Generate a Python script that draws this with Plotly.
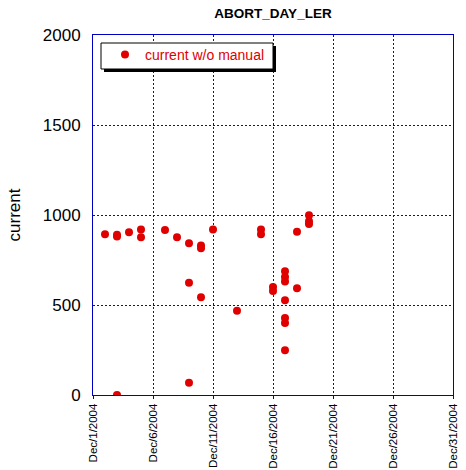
import plotly.graph_objects as go

# data
dates = [
    "2004-12-02", "2004-12-03", "2004-12-03", "2004-12-03", "2004-12-04",
    "2004-12-05", "2004-12-05", "2004-12-07", "2004-12-08", "2004-12-09",
    "2004-12-09", "2004-12-09", "2004-12-10", "2004-12-10", "2004-12-10",
    "2004-12-11", "2004-12-13", "2004-12-15", "2004-12-15", "2004-12-16",
    "2004-12-16", "2004-12-17", "2004-12-17", "2004-12-17", "2004-12-17",
    "2004-12-17", "2004-12-17", "2004-12-17", "2004-12-18", "2004-12-18",
    "2004-12-19", "2004-12-19", "2004-12-19",
]
current = [
    893, 890, 880, 0, 904,
    920, 876, 917, 876, 843,
    623, 68, 830, 815, 543,
    920, 468, 920, 893, 600,
    578, 687, 655, 630, 526,
    428, 400, 248, 907, 593,
    998, 965, 950,
]
tick_vals = ["2004-12-01", "2004-12-06", "2004-12-11", "2004-12-16",
             "2004-12-21", "2004-12-26", "2004-12-31"]
tick_text = ["Dec/1/2004", "Dec/6/2004", "Dec/11/2004", "Dec/16/2004",
             "Dec/21/2004", "Dec/26/2004", "Dec/31/2004"]
y_ticks = [0, 500, 1000, 1500, 2000]

axis_blue = "#0000C0"
grid_blue = "#0000FF"
red = "#E00000"

# plot-area geometry in px (for paper-coordinate conversion of decorations)
L, T, W, H = 93, 35, 360, 360


def px_x(p):
    return (p - L) / W


def px_y(p):
    return (T + H - p) / H


fig = go.Figure()
fig.add_trace(go.Scatter(
    x=dates, y=current, mode="markers", name="current w/o manual",
    marker=dict(color=red, size=8, symbol="circle"),
))

fig.update_layout(
    width=466, height=470,
    margin=dict(l=93, r=13, t=35, b=75, autoexpand=False),
    paper_bgcolor="white", plot_bgcolor="white",
    font=dict(family="Liberation Sans, Arial, sans-serif", color="black"),
    title=dict(text="<b>ABORT_DAY_LER</b>", x=273 / 466, xanchor="center",
               y=1 - 13 / 470, yanchor="middle", font=dict(size=13.5)),
    showlegend=True,
    legend=dict(x=px_x(105), y=px_y(39), xanchor="left", yanchor="top",
                bgcolor="rgba(0,0,0,0)", borderwidth=0,
                font=dict(size=14, color=red), tracegroupgap=0),
    xaxis=dict(
        type="date", range=["2004-12-01", "2004-12-31"], automargin=False,
        tickvals=tick_vals, ticktext=tick_text, tickangle=-90,
        tickfont=dict(size=11.5), showgrid=True, gridcolor=grid_blue,
        griddash="2px,2px", gridwidth=1, showline=True, linecolor=axis_blue,
        linewidth=1, mirror=True, ticks="outside", ticklen=3,
        tickcolor=axis_blue, zeroline=False,
    ),
    yaxis=dict(
        range=[0, 2000], tickvals=y_ticks, tickfont=dict(size=17), automargin=False,
        showgrid=True, gridcolor=grid_blue, griddash="2px,2px", gridwidth=1,
        showline=True, linecolor=axis_blue, linewidth=1, mirror=True,
        ticks="", ticklabelstandoff=8, zeroline=False,
        title=dict(text="current", font=dict(size=17), standoff=17),
    ),
)

# legend drop shadow and frame
fig.add_shape(type="rect", xref="paper", yref="paper",
              x0=px_x(104), x1=px_x(276), y0=px_y(72), y1=px_y(46),
              fillcolor="black", line=dict(width=0), layer="above")
fig.add_shape(type="rect", xref="paper", yref="paper",
              x0=px_x(101), x1=px_x(273), y0=px_y(69), y1=px_y(43),
              fillcolor="white", line=dict(color="black", width=1), layer="above")

fig.write_html("out.html", config={"displayModeBar": False},
               post_script="document.body.style.margin='0';document.body.style.overflow='hidden';")
